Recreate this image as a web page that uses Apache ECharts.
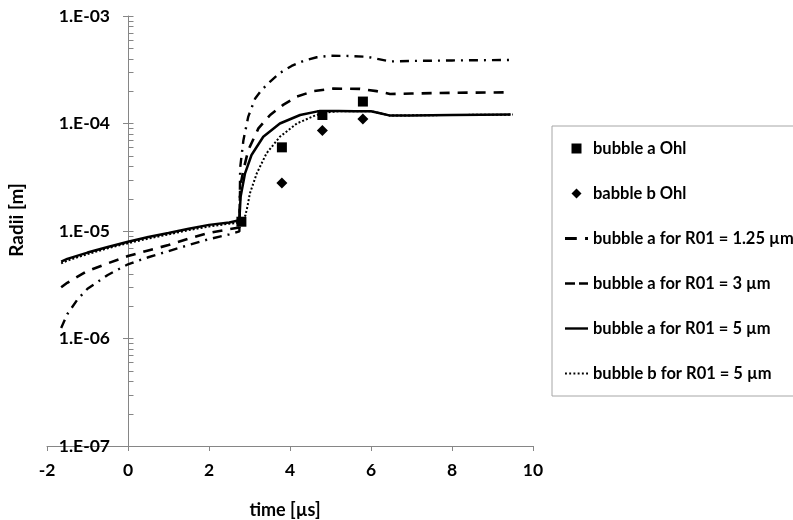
<!DOCTYPE html>
<html>
<head>
<meta charset="utf-8">
<script src="https://cdn.jsdelivr.net/npm/echarts@6/dist/echarts.min.js"></script>
<style>
html,body{margin:0;padding:0;background:#fff;}
#chart{width:793px;height:520px;}
</style>
</head>
<body>
<div id="chart"></div>
<script>
// ---- data (time in µs, radius in m) ----
const seriesNames = [
  'bubble a Ohl',
  'babble b Ohl',
  'bubble a for R01 = 1.25 µm',
  'bubble a for R01 = 3 µm',
  'bubble a for R01 = 5 µm',
  'bubble b for R01 = 5 µm'
];
const xTicks = [-2, 0, 2, 4, 6, 8, 10];
const yTickLabels = ['1.E-07', '1.E-06', '1.E-05', '1.E-04', '1.E-03'];

const ohlA = [[2.8, 1.22e-5], [3.8, 6.0e-5], [4.8, 1.2e-4], [5.8, 1.6e-4]];
const ohlB = [[3.8, 2.8e-5], [4.8, 8.6e-5], [5.8, 1.1e-4]];

const r125a = [
  [-1.65, 1.25e-6], [-1.5, 1.68e-6], [-1.25, 2.3e-6], [-1.0, 2.9e-6], [-0.5, 3.9e-6],
  [0, 4.9e-6], [0.5, 5.7e-6], [1, 6.5e-6], [1.5, 7.4e-6], [2, 8.4e-6], [2.5, 9.3e-6],
  [2.75, 9.9e-6], [2.77, 3.9e-5], [2.85, 7.0e-5], [2.97, 1.16e-4], [3.14, 1.71e-4],
  [3.3, 2.05e-4], [3.51, 2.45e-4], [3.75, 2.95e-4], [4.04, 3.43e-4], [4.35, 3.85e-4],
  [4.66, 4.13e-4], [5.0, 4.27e-4], [5.45, 4.25e-4], [5.89, 4.18e-4], [6.22, 3.95e-4],
  [6.47, 3.78e-4], [7.0, 3.82e-4], [8.0, 3.86e-4], [9.45, 3.9e-4]
];
const r3a = [
  [-1.65, 3.0e-6], [-1.5, 3.3e-6], [-1, 4.25e-6], [-0.5, 5.0e-6], [0, 5.85e-6],
  [0.5, 6.6e-6], [1, 7.4e-6], [1.5, 8.5e-6], [2, 9.6e-6], [2.5, 1.04e-5], [2.75, 1.08e-5],
  [2.77, 2.58e-5], [2.85, 3.69e-5], [2.97, 5.66e-5], [3.22, 9.0e-5], [3.51, 1.2e-4],
  [3.83, 1.49e-4], [4.17, 1.78e-4], [4.58, 2.0e-4], [5.07, 2.11e-4], [5.73, 2.1e-4],
  [6.14, 2.0e-4], [6.47, 1.88e-4], [7, 1.9e-4], [8, 1.93e-4], [9.45, 1.95e-4]
];
const r5a = [
  [-1.65, 5.2e-6], [-1.5, 5.5e-6], [-1, 6.3e-6], [-0.5, 7.1e-6], [0, 7.95e-6],
  [0.5, 8.8e-6], [1, 9.6e-6], [1.5, 1.05e-5], [2, 1.14e-5], [2.5, 1.2e-5], [2.75, 1.26e-5],
  [2.78, 2.08e-5], [2.89, 3.44e-5], [3.05, 5.09e-5], [3.34, 7.53e-5], [3.75, 1.0e-4],
  [4.25, 1.2e-4], [4.74, 1.31e-4], [5.2, 1.31e-4], [5.6, 1.3e-4], [6.0, 1.3e-4],
  [6.25, 1.24e-4], [6.45, 1.19e-4], [7, 1.19e-4], [8, 1.2e-4], [9.45, 1.21e-4]
];
const r5b = [
  [-1.65, 5.0e-6], [-1.5, 5.3e-6], [-1, 6.1e-6], [-0.5, 6.9e-6], [0, 7.7e-6],
  [0.5, 8.5e-6], [1, 9.3e-6], [1.5, 1.02e-5], [2, 1.1e-5], [2.5, 1.17e-5], [2.8, 1.2e-5],
  [2.9, 1.4e-5], [2.95, 1.7e-5], [3.01, 2.24e-5], [3.18, 3.44e-5], [3.42, 5.28e-5],
  [3.75, 7.53e-5], [4.17, 1.0e-4], [4.58, 1.17e-4], [4.82, 1.26e-4], [5.2, 1.3e-4],
  [5.6, 1.3e-4], [6.0, 1.3e-4], [6.25, 1.24e-4], [6.45, 1.19e-4], [7, 1.19e-4],
  [8, 1.2e-4], [9.5, 1.21e-4]
];

// minor ticks of the log axis (2..9 in each decade) and major ticks (right half)
const decades = [-7, -6, -5, -4];
const minorMult = [2, 3, 4, 5, 6, 7, 8, 9];
const minorTicks = [];
decades.forEach(function (d) {
  minorMult.forEach(function (m) { minorTicks.push([0, m * Math.pow(10, d)]); });
});
const majorTicks = [[0, 1e-7], [0, 1e-6], [0, 1e-5], [0, 1e-4], [0, 1e-3]];

// legend icons (square, diamond and the line patterns)
const legendIcons = [
  'path://M0,0h10v10h-10z',
  'path://M5,0L10,5L5,10L0,5z',
  'path://M0,0h10v2.4h-10zM17,0h2.5v2.4h-2.5z',
  'path://M0,0h10v2.5h-10zM14,0h9v2.5h-9z',
  'path://M0,0h23v2.4h-23z',
  'path://M0,0h1.8v1.8h-1.8zM4,0h1.8v1.8h-1.8zM8,0h1.8v1.8h-1.8zM12,0h1.8v1.8h-1.8zM16,0h1.8v1.8h-1.8zM20,0h1.8v1.8h-1.8z'
];

const AXIS = '#868686';
const FONT = 'Lato';

const chart = echarts.init(document.getElementById('chart'));

function tickSeries(data) {
  return {
    type: 'custom',
    silent: true,
    clip: false,
    z: 1,
    data: data,
    renderItem: function (params, api) {
      const p = api.coord([api.value(0), api.value(1)]);
      const x = Math.round(p[0]) + 0.5;
      const y = Math.round(p[1]) + 0.5;
      return {
        type: 'line',
        shape: { x1: x, y1: y, x2: x + 5, y2: y },
        style: { stroke: AXIS, lineWidth: 1 }
      };
    }
  };
}

const option = {
  animation: false,
  backgroundColor: '#fff',
  textStyle: { fontFamily: FONT },
  grid: { left: 47, right: 260, top: 16, bottom: 74, containLabel: false, outerBoundsMode: 'none' },
  legend: {
    orient: 'vertical',
    left: 552,
    top: 126,
    padding: [14, 60, 14, 13],
    itemGap: 28,
    itemWidth: 23,
    itemHeight: 10,
    borderColor: '#a6a6a6',
    borderWidth: 1,
    data: seriesNames.map(function (n, i) { return { name: n, icon: legendIcons[i] }; }),
    textStyle: { fontFamily: FONT, fontWeight: 'bold', fontSize: 16.5, color: '#000', lineHeight: 16 }
  },
  xAxis: {
    type: 'value',
    min: xTicks[0],
    max: xTicks[xTicks.length - 1],
    interval: 2,
    name: 'time [µs]',
    nameLocation: 'middle',
    nameGap: 55,
    nameTextStyle: { fontFamily: FONT, fontWeight: 'bold', fontSize: 18, color: '#000', padding: [0, 10, 0, 0] },
    axisLine: { lineStyle: { color: AXIS, width: 1 } },
    axisTick: { show: true, length: 5, lineStyle: { color: AXIS } },
    axisLabel: { margin: 15, fontFamily: FONT, fontWeight: 'bold', fontSize: 17.5, color: '#000' },
    splitLine: { show: false }
  },
  yAxis: {
    type: 'log',
    logBase: 10,
    min: 1e-7,
    max: 1e-3,
    offset: -81,
    name: 'Radii [m]',
    nameLocation: 'middle',
    nameGap: 102,
    nameRotate: 90,
    nameTextStyle: { fontFamily: FONT, fontWeight: 'bold', fontSize: 19, color: '#000', padding: [0, 0, 0, 22] },
    axisLine: { show: true, onZero: false, lineStyle: { color: AXIS, width: 1 } },
    axisTick: { show: true, length: 5, lineStyle: { color: AXIS } },
    axisLabel: {
      margin: 18, fontFamily: FONT, fontWeight: 'bold', fontSize: 17.5, color: '#000',
      formatter: function (v) { return yTickLabels[Math.round(Math.log10(v)) + 7]; }
    },
    splitLine: { show: false }
  },
  series: [
    {
      name: seriesNames[0], type: 'scatter', data: ohlA, symbol: 'rect', symbolSize: 10,
      itemStyle: { color: '#000', opacity: 1 }, z: 5
    },
    {
      name: seriesNames[1], type: 'scatter', data: ohlB, symbol: 'diamond', symbolSize: 11,
      itemStyle: { color: '#000', opacity: 1 }, z: 5
    },
    {
      name: seriesNames[2], type: 'line', data: r125a, symbol: 'none', showSymbol: false,
      lineStyle: { color: '#000', width: 2.4, type: [9, 6, 2, 6] }, itemStyle: { color: '#000' }, z: 3
    },
    {
      name: seriesNames[3], type: 'line', data: r3a, symbol: 'none', showSymbol: false,
      lineStyle: { color: '#000', width: 2.6, type: [10, 8] }, itemStyle: { color: '#000' }, z: 3
    },
    {
      name: seriesNames[4], type: 'line', data: r5a, symbol: 'none', showSymbol: false,
      lineStyle: { color: '#000', width: 2.5, type: 'solid' }, itemStyle: { color: '#000' }, z: 4
    },
    {
      name: seriesNames[5], type: 'line', data: r5b, symbol: 'none', showSymbol: false,
      lineStyle: { color: '#000', width: 2, type: [2, 2] }, itemStyle: { color: '#000' }, z: 3
    },
    tickSeries(minorTicks),
    tickSeries(majorTicks)
  ]
};
chart.setOption(option);
</script>
</body>
</html>
